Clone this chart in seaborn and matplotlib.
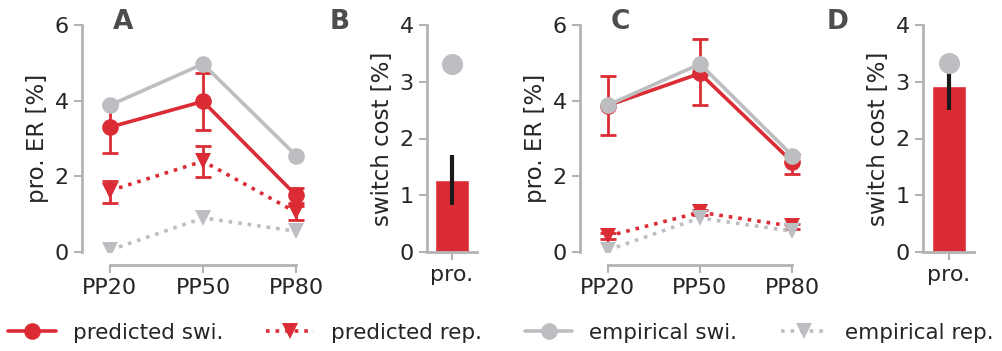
import numpy as np
import pandas as pd
import matplotlib
matplotlib.use("Agg")
import matplotlib.pyplot as plt
import seaborn as sns
from matplotlib.lines import Line2D

# data
conditions = ["PP20", "PP50", "PP80"]

emp_swi = [3.88, 4.97, 2.55]
emp_rep = [0.05, 0.90, 0.55]

# panel A (model 1)
A_pred_swi = [3.30, 3.98, 1.50]
A_pred_swi_lo = [2.62, 3.22, 1.30]
A_pred_swi_hi = [3.90, 4.72, 1.68]
A_pred_rep = [1.62, 2.40, 1.05]
A_pred_rep_lo = [1.30, 1.97, 0.85]
A_pred_rep_hi = [1.88, 2.80, 1.22]

# panel C (model 2)
C_pred_swi = [3.87, 4.72, 2.38]
C_pred_swi_lo = [3.08, 3.88, 2.05]
C_pred_swi_hi = [4.65, 5.62, 2.60]
C_pred_rep = [0.42, 1.05, 0.68]
C_pred_rep_lo = [0.35, 0.98, 0.62]
C_pred_rep_hi = [0.50, 1.12, 0.75]

# switch cost panels
cost_label = ["pro."]
B_cost = [1.27]
B_cost_lo = [0.82]
B_cost_hi = [1.71]
B_emp = [3.32]
D_cost = [2.93]
D_cost_lo = [2.50]
D_cost_hi = [3.17]
D_emp = [3.33]

RED = "#db2c36"
GRAY = "#bdbec1"
SPINE = "#b3b3b3"

sns.set_theme(style="ticks")
plt.rcParams["font.family"] = ["DejaVu Sans"]
plt.rcParams["axes.edgecolor"] = SPINE
plt.rcParams["axes.linewidth"] = 2
plt.rcParams["xtick.color"] = SPINE
plt.rcParams["ytick.color"] = SPINE
plt.rcParams["xtick.labelcolor"] = "#262626"
plt.rcParams["ytick.labelcolor"] = "#262626"
plt.rcParams["xtick.major.width"] = 1.5
plt.rcParams["ytick.major.width"] = 1.5
plt.rcParams["xtick.major.size"] = 6
plt.rcParams["ytick.major.size"] = 6

W, H = 1002, 351
fig = plt.figure(figsize=(W / 100, H / 100), dpi=100)
LW = 2.6


def px_axes(left, right, top, bottom):
    return fig.add_axes([left / W, 1 - bottom / H, (right - left) / W, (bottom - top) / H])


def err(mean, lo, hi):
    return [np.array(mean) - np.array(lo), np.array(hi) - np.array(mean)]


def er_panel(ax, pswi, pswi_lo, pswi_hi, prep, prep_lo, prep_hi):
    ax.errorbar(conditions, pswi, yerr=err(pswi, pswi_lo, pswi_hi), fmt="none",
                ecolor=RED, elinewidth=2, capsize=6, capthick=2, zorder=2)
    ax.errorbar(conditions, prep, yerr=err(prep, prep_lo, prep_hi), fmt="none",
                ecolor=RED, elinewidth=2, capsize=6, capthick=2, zorder=2)
    sns.lineplot(x=conditions, y=pswi, ax=ax, color=RED, lw=LW, marker="o",
                 markersize=12, markeredgewidth=0, zorder=3)
    sns.lineplot(x=conditions, y=prep, ax=ax, color=RED, lw=LW, ls=":", marker="v",
                 markersize=12, markeredgewidth=0, zorder=3)
    sns.lineplot(x=conditions, y=emp_swi, ax=ax, color=GRAY, lw=LW, marker="o",
                 markersize=12, markeredgewidth=0, zorder=4)
    sns.lineplot(x=conditions, y=emp_rep, ax=ax, color=GRAY, lw=LW, ls=":", marker="v",
                 markersize=12, markeredgewidth=0, zorder=4)
    ax.set_xlim(-0.3, 2.3)
    ax.set_ylim(0, 6)
    ax.set_yticks([0, 2, 4, 6])
    ax.set_ylabel("pro. ER [%]", fontsize=16.5, color="#262626")
    ax.tick_params(labelsize=16)
    sns.despine(ax=ax, offset={"bottom": 9.5}, trim=True)


def cost_panel(ax, cost, lo, hi, emp):
    sns.barplot(x=cost_label, y=cost, ax=ax, color=RED, saturation=1, width=0.8,
                errorbar=None, zorder=2)
    ax.errorbar(cost_label, cost, yerr=err(cost, lo, hi), fmt="none",
                ecolor="#1a1a1a", elinewidth=3, capsize=0, zorder=3)
    sns.scatterplot(x=cost_label, y=emp, ax=ax, color=GRAY, s=230, linewidth=0, zorder=4)
    ax.set_xlim(-0.6, 0.6)
    ax.set_ylim(0, 4)
    ax.set_yticks([0, 1, 2, 3, 4])
    ax.set_ylabel("switch cost [%]", fontsize=16.5, color="#262626")
    ax.tick_params(labelsize=16)
    sns.despine(ax=ax)


axA = px_axes(82, 324, 25, 252)
er_panel(axA, A_pred_swi, A_pred_swi_lo, A_pred_swi_hi, A_pred_rep, A_pred_rep_lo, A_pred_rep_hi)
axB = px_axes(427, 477, 25, 252)
cost_panel(axB, B_cost, B_cost_lo, B_cost_hi, B_emp)
axC = px_axes(580, 820, 25, 252)
er_panel(axC, C_pred_swi, C_pred_swi_lo, C_pred_swi_hi, C_pred_rep, C_pred_rep_lo, C_pred_rep_hi)
axD = px_axes(923, 974, 25, 252)
cost_panel(axD, D_cost, D_cost_lo, D_cost_hi, D_emp)

for lab, x in zip("ABCD", [123, 340, 620, 838]):
    fig.text(x / W, 1 - 22 / H, lab, fontsize=19, fontweight="bold", color="#4d4d4d",
             ha="center", va="center")

handles = [
    Line2D([], [], color=RED, lw=LW, marker="o", markersize=12, markeredgewidth=0),
    Line2D([], [], color=RED, lw=LW, ls=":", marker="v", markersize=12, markeredgewidth=0),
    Line2D([], [], color=GRAY, lw=LW, marker="o", markersize=12, markeredgewidth=0),
    Line2D([], [], color=GRAY, lw=LW, ls=":", marker="v", markersize=12, markeredgewidth=0),
]
labels = ["predicted swi.", "predicted rep.", "empirical swi.", "empirical rep."]
leg = fig.legend(handles, labels, loc="center", ncol=4, frameon=False,
                 bbox_to_anchor=(0.5, 1 - 333 / H), fontsize=15.5, handlelength=2.2,
                 columnspacing=2.0, handletextpad=0.8)
for t in leg.get_texts():
    t.set_color("#262626")

fig.savefig("out.png", dpi=100)
